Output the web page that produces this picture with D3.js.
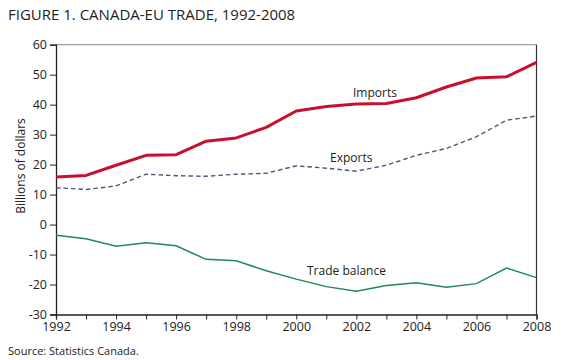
<!DOCTYPE html>
<html><head><meta charset="utf-8">
<script src="https://cdn.jsdelivr.net/npm/d3@7"></script>
<style>body{margin:0;background:#fff}svg{display:block}text{font-family:"Open Sans",sans-serif;fill:#222}</style>
</head><body>
<script>
const years = d3.range(1992, 2009);
const imports = [15.9,16.4,19.8,23.1,23.3,27.8,28.9,32.4,37.9,39.4,40.2,40.4,42.3,45.9,48.9,49.3,54.1];
const exports = [12.3,11.7,12.9,16.8,16.3,16.1,16.8,17.1,19.6,18.8,17.8,19.8,23.1,25.4,29.3,34.8,36.2];
const balance = [-3.6,-4.7,-7.2,-6.1,-7.1,-11.6,-12.1,-15.4,-18.2,-20.7,-22.2,-20.3,-19.4,-20.9,-19.7,-14.5,-17.7];
const yTicks = [60,50,40,30,20,10,0,-10,-20,-30];
const xLabels = [1992,1994,1996,1998,2000,2002,2004,2006,2008];

const W=561,H=360;
const svg=d3.select("body").append("svg").attr("width",W).attr("height",H);
const x=d3.scaleLinear().domain([1992,2008]).range([56,536.5]);
const y=d3.scaleLinear().domain([-30,60]).range([314.5,44.7]);

svg.append("text").attr("x",8).attr("y",20).attr("font-size",15).attr("fill","#2a2a2a").text("FIGURE 1. CANADA-EU TRADE, 1992-2008");

// top and right borders
svg.append("line").attr("x1",x(1992)).attr("x2",x(2008)).attr("y1",y(60)).attr("y2",y(60)).attr("stroke","#888").attr("stroke-width",1);
svg.append("line").attr("x1",x(2008)).attr("x2",x(2008)).attr("y1",y(60)).attr("y2",y(-30)).attr("stroke","#333").attr("stroke-width",1.2);

const yAxis=svg.append("g").attr("transform",`translate(${x(1992)},0)`)
  .call(d3.axisLeft(y).tickValues(yTicks).tickSize(6).tickPadding(3).tickFormat(d=>String(d)));
yAxis.select(".domain").attr("stroke","#222").attr("stroke-width",1.3);
yAxis.selectAll(".tick line").attr("stroke","#222");
yAxis.selectAll("text").attr("font-size",12.5).style("font-family","Open Sans").attr("fill","#222");

const xAxis=svg.append("g").attr("transform",`translate(0,${y(-30)})`)
  .call(d3.axisBottom(x).tickValues(years).tickSize(5).tickPadding(3).tickFormat(d=>xLabels.includes(d)?String(d):""));
xAxis.select(".domain").attr("stroke","#222").attr("stroke-width",1.3);
xAxis.selectAll(".tick line").attr("stroke","#222");
xAxis.selectAll("text").attr("font-size",12.5).style("font-family","Open Sans").attr("fill","#222");

const line=d3.line().x((d,i)=>x(years[i])).y(d=>y(d));
svg.append("path").datum(imports).attr("d",line).attr("fill","none").attr("stroke","#c8102e").attr("stroke-width",3).attr("stroke-linejoin","round");
svg.append("path").datum(exports).attr("d",line).attr("fill","none").attr("stroke","#4b5878").attr("stroke-width",1.4).attr("stroke-dasharray","4.5,3");
svg.append("path").datum(balance).attr("d",line).attr("fill","none").attr("stroke","#1e8a5a").attr("stroke-width",1.5);

svg.append("text").attr("x",353).attr("y",97).attr("font-size",12).text("Imports");
svg.append("text").attr("x",330).attr("y",162).attr("font-size",12).text("Exports");
svg.append("text").attr("x",307).attr("y",274.5).attr("font-size",12).text("Trade balance");

svg.append("text").attr("transform","translate(25,166) rotate(-90)").attr("text-anchor","middle").attr("font-size",12).text("Billions of dollars");
svg.append("text").attr("x",8).attr("y",355).attr("font-size",11).text("Source: Statistics Canada.");
</script>
</body></html>
